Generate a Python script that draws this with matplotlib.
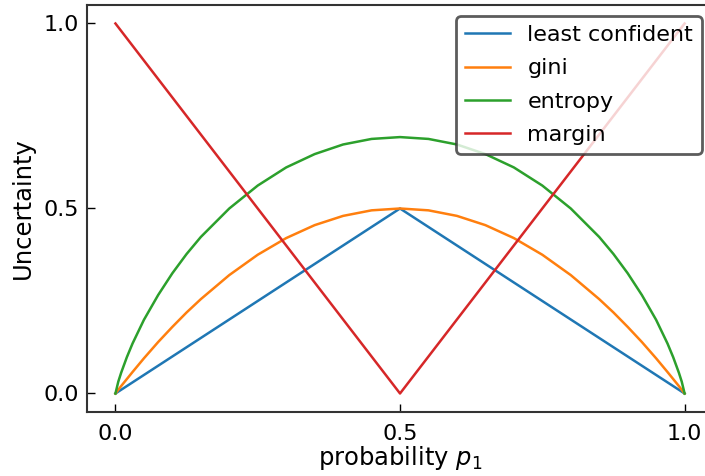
import matplotlib
matplotlib.use('Agg')
import matplotlib.pyplot as plt

# probability of class 1 (left half; right half mirrors it)
p_half = [0.0, 0.005, 0.01, 0.02, 0.03, 0.05, 0.075, 0.1, 0.125, 0.15, 0.2,
          0.25, 0.3, 0.35, 0.4, 0.45, 0.5]
entropy_half = [0.0, 0.032, 0.056, 0.098, 0.135, 0.199, 0.266, 0.325, 0.377, 0.423, 0.500,
                0.562, 0.611, 0.647, 0.673, 0.688, 0.693]
gini_half = [0.0, 0.010, 0.020, 0.039, 0.058, 0.095, 0.139, 0.180, 0.219, 0.255, 0.320,
             0.375, 0.420, 0.455, 0.480, 0.495, 0.500]

p = p_half + [round(1 - v, 3) for v in p_half[-2::-1]]
entropy = entropy_half + entropy_half[-2::-1]
gini = gini_half + gini_half[-2::-1]

p_lin = [0.0, 0.5, 1.0]
least_confident = [0.0, 0.5, 0.0]
margin = [1.0, 0.0, 1.0]

plt.rcParams['font.size'] = 16

fig = plt.figure(figsize=(7.05, 4.76), dpi=100)
ax = fig.add_axes([0.1234, 0.1345, 0.888, 0.855])

lw = 1.8
ax.plot(p_lin, least_confident, label='least confident', lw=lw)
ax.plot(p, gini, label='gini', lw=lw)
ax.plot(p, entropy, label='entropy', lw=lw)
ax.plot(p_lin, margin, label='margin', lw=lw)

ax.set_xlim(-0.05, 1.05)
ax.set_ylim(-0.05, 1.05)
ax.set_xticks([0.0, 0.5, 1.0])
ax.set_yticks([0.0, 0.5, 1.0])
ax.tick_params(direction='in', length=6, width=1, colors='black', labelsize=16)
ax.tick_params(axis='x', pad=9)
ax.tick_params(axis='y', pad=6)
for s in ax.spines.values():
    s.set_color('#333333')
    s.set_linewidth(1.5)
# right edge of the frame falls outside the picture in the reference
ax.spines['right'].set_visible(False)

ax.set_xlabel('probability $p_1$', fontsize=17.5, labelpad=0)
ax.set_ylabel('Uncertainty', fontsize=17.5, labelpad=6)

leg = ax.legend(loc='upper right', fancybox=True, fontsize=16, labelspacing=0.6)
leg.get_frame().set_edgecolor('#333333')
leg.get_frame().set_linewidth(2)

fig.savefig('out.png', dpi=100)
